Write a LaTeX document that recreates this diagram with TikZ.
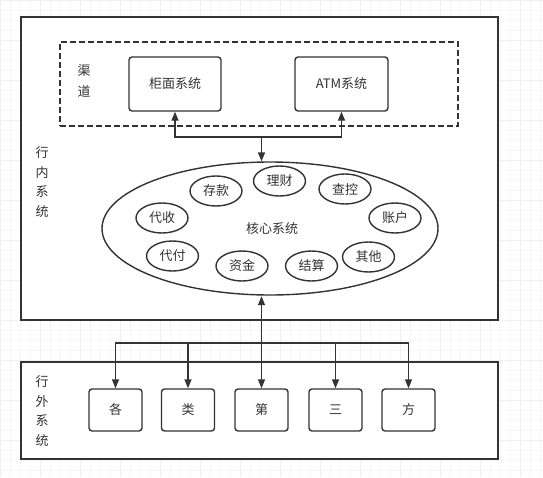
\documentclass[tikz,border=0pt]{standalone}
\usepackage{fontspec}
\setmainfont{Noto Sans CJK SC}
\usetikzlibrary{arrows.meta,shapes.geometric}
\definecolor{ink}{HTML}{333333}
\definecolor{txt}{HTML}{333333}
\tikzset{
  x=1pt,y=-1pt,
  every node/.style={text=txt,font=\fontsize{13}{19.5}\selectfont},
  outerbox/.style={draw=ink,line width=1.4pt,fill=white},
  dashbox/.style={draw=ink,line width=1.4pt,dash pattern=on 6pt off 3pt},
  sysbox/.style={draw=ink,line width=1.4pt,rounded corners=3pt,fill=white,inner sep=0pt},
  modell/.style={ellipse,draw=ink,line width=1.4pt,fill=white,minimum width=52pt,minimum height=30pt,inner sep=0pt},
  vlabel/.style={align=center,inner sep=0pt},
  arr/.style={draw=ink,line width=1.4pt,-{Triangle[length=9pt,width=7pt]}},
  wire/.style={draw=ink,line width=1.4pt}
}
\begin{document}
\begin{tikzpicture}
\useasboundingbox (0,0) rectangle (543,477);
\fill[white] (0,0) rectangle (543,477);
\draw[gray!7,line width=0.5pt] (0,0) grid[step=10pt] (543,477);
\draw[gray!12,line width=0.6pt] (0,0) grid[step=40pt] (543,477);

% outer containers
\node[outerbox,minimum width=477pt,minimum height=303pt,inner sep=0pt] (inner) at (259.5,168.5) {};
\node[outerbox,minimum width=477pt,minimum height=97pt,inner sep=0pt] (outer) at (259.5,410.5) {};
\node[vlabel] (innerlbl) at (42,182) {行\\内\\系\\统};
\node[vlabel] (outerlbl) at (42,411) {行\\外\\系\\统};

% channel
\node[dashbox,minimum width=398pt,minimum height=84pt,inner sep=0pt] (chan) at (259,84) {};
\node[vlabel,font=\fontsize{13}{21}\selectfont] (chanlbl) at (84,81) {渠\\道};
\node[sysbox,minimum width=92pt,minimum height=54pt] (gm) at (175,84) {柜面系统};
\node[sysbox,minimum width=93pt,minimum height=54pt] (atm) at (341.5,84) {ATM系统};

% core
\node[ellipse,draw=ink,line width=1.4pt,fill=white,minimum width=336pt,minimum height=133pt,inner sep=0pt] (core) at (270,228.5) {};
\node (coretxt) at (272,229) {核心系统};
\node[modell] (ck) at (216,191) {存款};
\node[modell] (lc) at (279.5,181) {理财};
\node[modell] (ckk) at (345,189) {查控};
\node[modell] (ds) at (162,218) {代收};
\node[modell] (zh) at (395,218) {账户};
\node[modell] (df) at (172.5,256) {代付};
\node[modell] (zj) at (242,266) {资金};
\node[modell] (js) at (311.5,266) {结算};
\node[modell] (qt) at (368.5,257) {其他};

% external
\node[sysbox,minimum width=53pt,minimum height=42pt] (b1) at (115.5,410) {各};
\node[sysbox,minimum width=53pt,minimum height=42pt] (b2) at (188,410) {类};
\node[sysbox,minimum width=53pt,minimum height=42pt] (b3) at (261.5,410) {第};
\node[sysbox,minimum width=53pt,minimum height=42pt] (b4) at (335.5,410) {三};
\node[sysbox,minimum width=53pt,minimum height=42pt] (b5) at (408.5,410) {方};

% connectors
\coordinate (j1) at (261.5,137);
\coordinate (j2) at (261.5,343);
\draw[arr] (j1) -- (j1 |- core.north);
\draw[arr] (j1) -| (gm.south);
\draw[arr] (j1) -| (atm.south);
\draw[arr] (j2) -- ([yshift=-0.5pt]j2 |- core.south);
\draw[arr] (j2) -- (b3.north);
\draw[arr] (j2) -| (b1.north);
\draw[arr] (j2) -| (b2.north);
\draw[arr] (j2) -| (b4.north);
\draw[arr] (j2) -| (b5.north);
\end{tikzpicture}
\end{document}
